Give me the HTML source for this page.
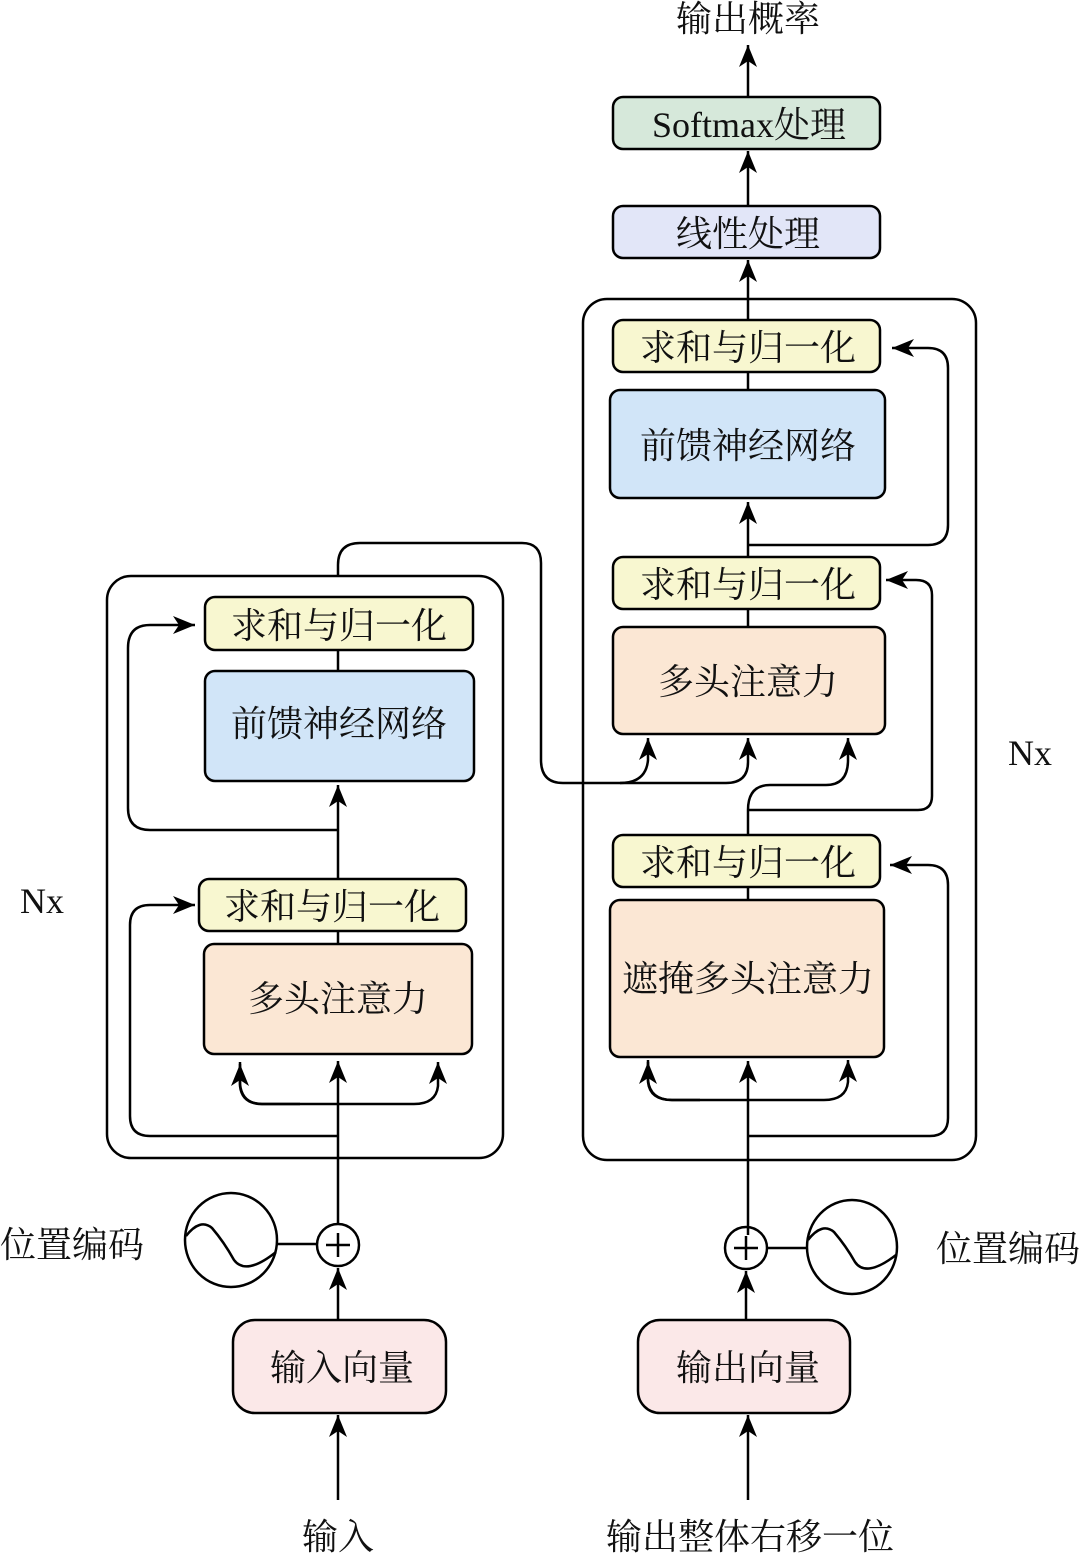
<!DOCTYPE html>
<html><head><meta charset="utf-8"><style>
html,body{margin:0;padding:0;background:#fff}
svg{display:block}
text{font-family:"Liberation Serif","Noto Serif CJK SC",serif;font-size:36px;fill:#111;text-anchor:middle;dominant-baseline:central}
</style></head><body>
<svg width="1080" height="1554" viewBox="0 0 1080 1554" xmlns="http://www.w3.org/2000/svg">
<defs>
<marker id="a" markerUnits="userSpaceOnUse" markerWidth="24" markerHeight="20" refX="22" refY="10" orient="auto">
<path d="M0,1 L22,10 L0,19 L6,10 Z" fill="#000"/>
</marker>
</defs>
<g fill="none" stroke="#000" stroke-width="2.5">
<rect x="107" y="576" width="396" height="582" rx="24"/>
<rect x="583" y="299" width="393" height="861" rx="24"/>
<line x1="748" y1="97" x2="748" y2="45" marker-end="url(#a)"/>
<line x1="748" y1="206" x2="748" y2="151" marker-end="url(#a)"/>
<line x1="748" y1="320" x2="748" y2="260" marker-end="url(#a)"/>
<line x1="748" y1="372" x2="748" y2="390"/>
<line x1="748" y1="557" x2="748" y2="502" marker-end="url(#a)"/>
<line x1="748" y1="609" x2="748" y2="627"/>
<path d="M748,545 H928 Q948,545 948,525 V368 Q948,348 928,348 H892" marker-end="url(#a)"/>
<line x1="748" y1="835" x2="748" y2="810"/>
<path d="M748,810 Q748,785 770,785 H826 Q848,785 848,760 V738" marker-end="url(#a)"/>
<path d="M748,810 H918 Q932,810 932,796 V595 Q932,580 916,580 H886" marker-end="url(#a)"/>
<line x1="748" y1="887" x2="748" y2="900"/>
<path d="M338,576 V565 Q338,543 360,543 H522 Q541,543 541,563 V760 Q541,783 563,783 H726 Q748,783 748,762 V738" marker-end="url(#a)"/>
<path d="M620,783 Q646,783 648,760 V738" marker-end="url(#a)"/>
<line x1="748" y1="1235" x2="748" y2="1061" marker-end="url(#a)"/>
<path d="M648,1060 V1082 Q650,1100 672,1100 H824 Q846,1100 848,1082 V1060" marker-end="url(#a)"/>
<path d="M700,1100 H672 Q650,1100 648,1080 V1062" marker-end="url(#a)"/>
<path d="M748,1136 H930 Q948,1136 948,1118 V885 Q948,865 928,865 H890" marker-end="url(#a)"/>
<circle cx="746" cy="1248" r="21"/>
<line x1="734" y1="1248" x2="758" y2="1248"/><line x1="746" y1="1236" x2="746" y2="1260"/>
<line x1="767" y1="1248" x2="807" y2="1248"/>
<ellipse cx="852" cy="1247" rx="45" ry="47"/>
<path d="M808,1240 Q822,1222 834,1232 Q846,1246 855,1262 Q866,1278 896,1255"/>
<line x1="746" y1="1320" x2="746" y2="1271" marker-end="url(#a)"/>
<line x1="748" y1="1500" x2="748" y2="1415" marker-end="url(#a)"/>
<line x1="338" y1="650" x2="338" y2="671"/>
<line x1="338" y1="879" x2="338" y2="785" marker-end="url(#a)"/>
<path d="M338,830 H150 Q128,830 128,808 V648 Q128,625 150,625 H195" marker-end="url(#a)"/>
<line x1="338" y1="931" x2="338" y2="944"/>
<line x1="338" y1="1224" x2="338" y2="1061" marker-end="url(#a)"/>
<path d="M240,1062 V1086 Q242,1104 262,1104 H414 Q436,1104 438,1086 V1062" marker-end="url(#a)"/>
<path d="M300,1104 H262 Q242,1104 240,1084 V1064" marker-end="url(#a)"/>
<path d="M338,1136 H150 Q130,1136 130,1116 V925 Q130,905 150,905 H195" marker-end="url(#a)"/>
<circle cx="338" cy="1245" r="21"/>
<line x1="326" y1="1245" x2="350" y2="1245"/><line x1="338" y1="1233" x2="338" y2="1257"/>
<line x1="277" y1="1244" x2="317" y2="1244"/>
<ellipse cx="231" cy="1240" rx="46" ry="47"/>
<path d="M186,1236 Q200,1218 212,1228 Q224,1242 234,1260 Q246,1276 276,1252"/>
<line x1="338" y1="1320" x2="338" y2="1268" marker-end="url(#a)"/>
<line x1="338" y1="1500" x2="338" y2="1415" marker-end="url(#a)"/>
</g>
<g stroke="#000" stroke-width="2.5">
<rect x="613" y="97" width="267" height="52" rx="10" fill="#d6e8da"/>
<rect x="613" y="206" width="267" height="52" rx="10" fill="#e2e6f8"/>
<rect x="613" y="320" width="267" height="52" rx="10" fill="#f8f7d0"/>
<rect x="610" y="390" width="275" height="108" rx="10" fill="#d1e5f8"/>
<rect x="613" y="557" width="267" height="52" rx="10" fill="#f8f7d0"/>
<rect x="613" y="627" width="272" height="107" rx="10" fill="#fbe7d4"/>
<rect x="613" y="835" width="267" height="52" rx="10" fill="#f8f7d0"/>
<rect x="610" y="900" width="274" height="157" rx="10" fill="#fbe7d4"/>
<rect x="638" y="1320" width="212" height="93" rx="22" fill="#fbe8e8"/>
<rect x="205" y="597" width="268" height="53" rx="10" fill="#f8f7d0"/>
<rect x="205" y="671" width="269" height="110" rx="10" fill="#d1e5f8"/>
<rect x="199" y="879" width="267" height="52" rx="10" fill="#f8f7d0"/>
<rect x="204" y="944" width="268" height="110" rx="10" fill="#fbe7d4"/>
<rect x="233" y="1320" width="213" height="93" rx="22" fill="#fbe8e8"/>
</g>
<text x="748" y="19">输出概率</text>
<text x="749" y="125">Softmax处理</text>
<text x="748" y="234">线性处理</text>
<text x="748" y="348">求和与归一化</text>
<text x="748" y="446">前馈神经网络</text>
<text x="748" y="585">求和与归一化</text>
<text x="748" y="682">多头注意力</text>
<text x="748" y="863">求和与归一化</text>
<text x="748" y="979">遮掩多头注意力</text>
<text x="748" y="1368">输出向量</text>
<text x="750" y="1537">输出整体右移一位</text>
<text x="1008" y="1249">位置编码</text>
<text x="1030" y="753">Nx</text>
<text x="339" y="626">求和与归一化</text>
<text x="339" y="724">前馈神经网络</text>
<text x="332" y="907">求和与归一化</text>
<text x="338" y="999">多头注意力</text>
<text x="342" y="1368">输入向量</text>
<text x="338" y="1537">输入</text>
<text x="72" y="1245">位置编码</text>
<text x="42" y="901">Nx</text>
</svg>
</body></html>
